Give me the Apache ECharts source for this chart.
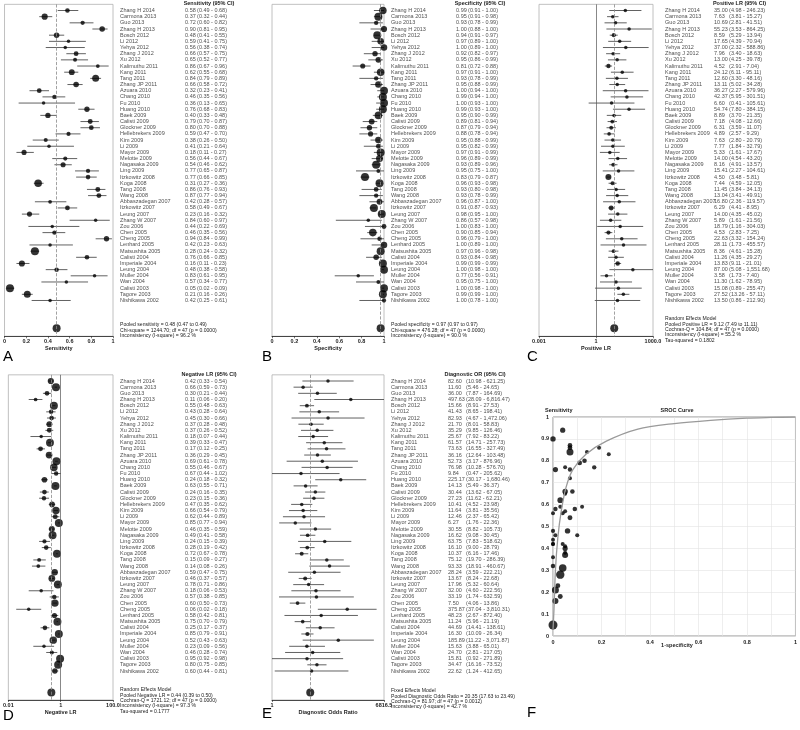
<!DOCTYPE html>
<html>
<head>
<meta charset="utf-8">
<script src="https://cdn.jsdelivr.net/npm/echarts@6/dist/echarts.min.js"></script>
<style>
html,body{margin:0;padding:0;background:#fff}
#main{width:800px;height:730px}
</style>
</head>
<body>
<div id="main"></div>
<script>
// studies, top to bottom
const studies = ['Zhang H 2014','Carmona 2013','Guo 2013','Zhang H 2013','Bosch 2012','Li 2012','Yehya 2012','Zhang J 2012','Xu 2012','Kalimuthu 2011',
  'Kang 2011','Tang 2011','Zhang JP 2011','Azuara 2010','Chang 2010','Fu 2010','Huang 2010','Baek 2009','Calisti 2009','Glockner 2009',
  'Hellebrekers 2009','Kim 2009','Li 2009','Mayor 2009','Melotte 2009','Nagasaka 2009','Ling 2009','Itzkowitz 2008','Koga 2008','Tang 2008',
  'Wang 2008','Abbaszadegan 2007','Itzkowitz 2007','Leung 2007','Zhang W 2007','Zou 2006','Chen 2005','Cheng 2005','Lenhard 2005','Matsushita 2005',
  'Calisti 2004','Imperiale 2004','Leung 2004','Muller 2004','Wan 2004','Calisti 2003','Tagore 2003','Nishikawa 2002'];

const sens   = [0.58,0.37,0.72,0.90,0.48,0.59,0.56,0.66,0.65,0.86,0.62,0.84,0.66,0.32,0.46,0.36,0.76,0.40,0.79,0.80,0.59,0.38,0.41,0.18,0.56,0.54,0.77,0.77,0.31,0.86,0.87,0.42,0.58,0.23,0.84,0.44,0.46,0.94,0.42,0.28,0.76,0.16,0.48,0.83,0.57,0.05,0.21,0.42];
const sensLo = [0.49,0.32,0.60,0.81,0.41,0.41,0.38,0.57,0.52,0.67,0.55,0.79,0.58,0.23,0.35,0.13,0.68,0.33,0.70,0.70,0.47,0.26,0.21,0.11,0.44,0.46,0.65,0.66,0.27,0.76,0.77,0.28,0.49,0.16,0.60,0.22,0.35,0.84,0.23,0.24,0.66,0.11,0.38,0.61,0.34,0.02,0.16,0.25];
const sensHi = [0.68,0.44,0.82,0.95,0.55,0.75,0.74,0.75,0.77,0.96,0.68,0.89,0.72,0.41,0.56,0.65,0.83,0.48,0.87,0.88,0.70,0.50,0.64,0.27,0.67,0.62,0.87,0.85,0.36,0.93,0.94,0.57,0.67,0.32,0.97,0.69,0.56,0.99,0.63,0.32,0.85,0.23,0.58,0.95,0.77,0.09,0.26,0.61];

const spec   = [0.99,0.95,0.93,1.00,0.94,0.97,1.00,0.92,0.95,0.81,0.97,0.93,0.95,1.00,0.99,1.00,0.99,0.95,0.89,0.87,0.88,0.95,0.95,0.97,0.96,0.93,0.95,0.83,0.96,0.93,0.93,0.96,0.91,0.98,0.86,1.00,0.90,0.96,1.00,0.97,0.93,0.99,1.00,0.77,0.95,1.00,0.99,1.00];
const specLo = [0.91,0.91,0.78,0.88,0.91,0.89,0.89,0.82,0.86,0.72,0.91,0.78,0.88,0.94,0.94,0.93,0.93,0.90,0.81,0.79,0.78,0.88,0.82,0.91,0.89,0.89,0.75,0.79,0.93,0.80,0.78,0.87,0.87,0.95,0.57,0.83,0.85,0.79,0.89,0.96,0.84,0.99,0.98,0.56,0.75,0.98,0.99,0.78];
const specHi = [1.00,0.98,0.99,1.00,0.97,1.00,1.00,0.97,0.99,0.88,1.00,0.99,0.99,1.00,1.00,1.00,1.00,0.99,0.94,0.94,0.94,0.99,0.99,0.99,0.99,0.96,1.00,0.87,0.98,0.98,0.99,1.00,0.93,1.00,0.98,1.00,0.94,1.00,1.00,0.98,0.98,0.99,1.00,0.91,1.00,1.00,1.00,1.00];

const plr   = [35.00,7.63,10.69,55.23,8.59,17.65,37.00,7.96,13.00,4.52,24.12,12.60,13.11,36.27,42.37,6.60,54.74,8.89,7.18,6.31,4.89,7.63,7.77,5.33,14.00,8.16,15.41,4.50,7.44,11.45,13.04,16.80,6.29,14.00,5.89,18.79,4.53,22.63,28.11,8.36,11.26,13.83,87.00,3.58,11.30,15.08,27.52,13.50];
const plrLo = [4.98,3.81,2.81,3.53,5.29,4.39,2.32,3.40,4.25,2.91,6.11,3.30,5.02,2.27,5.95,0.41,7.80,3.70,4.08,3.59,2.57,2.80,1.84,1.61,4.54,4.91,2.27,3.48,4.59,3.84,3.41,2.36,4.41,4.35,1.61,1.16,2.83,3.32,1.73,4.61,4.35,9.11,5.08,1.73,1.62,0.89,13.26,0.86];
const plrHi = [246.23,15.27,41.51,864.25,13.94,70.94,588.86,18.63,39.78,7.04,95.11,48.16,34.28,579.96,301.51,105.61,384.15,21.35,12.66,11.07,9.29,20.79,32.79,17.67,43.20,13.57,104.61,5.81,12.05,34.13,49.91,119.57,8.95,45.02,21.56,304.03,7.25,154.24,455.57,15.28,29.27,21.01,1551.68,7.40,78.95,255.47,57.11,212.90];

const nlr   = [0.42,0.66,0.30,0.11,0.55,0.43,0.45,0.37,0.37,0.18,0.39,0.17,0.36,0.69,0.55,0.67,0.24,0.63,0.24,0.23,0.47,0.66,0.62,0.85,0.46,0.49,0.24,0.28,0.72,0.15,0.14,0.59,0.46,0.78,0.18,0.57,0.60,0.06,0.58,0.75,0.25,0.85,0.52,0.23,0.46,0.95,0.80,0.60];
const nlrLo = [0.33,0.59,0.21,0.06,0.48,0.28,0.30,0.28,0.26,0.07,0.33,0.12,0.29,0.61,0.46,0.44,0.18,0.55,0.16,0.15,0.35,0.54,0.44,0.77,0.35,0.41,0.15,0.19,0.67,0.09,0.08,0.47,0.37,0.71,0.06,0.38,0.50,0.02,0.42,0.70,0.17,0.79,0.43,0.09,0.28,0.92,0.75,0.44];
const nlrHi = [0.54,0.73,0.44,0.20,0.63,0.64,0.66,0.48,0.52,0.44,0.47,0.25,0.45,0.78,0.67,1.02,0.32,0.71,0.35,0.36,0.62,0.79,0.89,0.94,0.59,0.58,0.39,0.42,0.78,0.27,0.26,0.75,0.57,0.86,0.53,0.85,0.73,0.18,0.81,0.79,0.37,0.91,0.63,0.56,0.74,0.98,0.85,0.81];

const dor   = [82.60,11.60,36.00,497.63,15.66,41.43,82.93,21.70,35.29,25.67,61.57,73.63,36.16,52.73,76.98,9.84,225.17,14.13,30.44,27.23,10.41,11.64,12.46,6.27,30.55,16.62,63.75,16.10,10.37,75.12,93.33,28.24,13.67,17.96,32.00,33.19,7.50,375.87,48.23,11.24,44.69,16.30,185.89,15.63,24.70,15.81,34.47,22.62];
const dorLo = [10.98,5.46,7.87,28.09,8.91,8.65,4.67,8.01,9.85,7.92,14.71,16.55,12.64,3.17,10.28,0.47,30.17,5.49,13.62,11.62,4.52,3.81,2.37,1.76,8.82,9.08,7.83,9.00,6.16,19.70,18.91,3.59,8.24,5.32,4.60,1.74,4.06,37.04,2.67,5.96,14.41,10.09,11.22,3.88,2.81,0.92,16.16,1.24];
const dorHi = [621.25,24.65,164.69,6816.47,27.53,198.41,1472.06,58.83,126.46,83.22,257.73,327.49,103.48,876.96,576.70,205.62,1680.46,36.37,67.05,62.21,23.98,35.56,65.42,22.36,105.73,30.45,518.62,28.79,17.46,286.39,460.67,222.21,22.68,60.64,222.56,632.59,13.86,3810.31,872.40,21.19,138.61,26.34,3071.87,65.01,217.05,271.89,73.52,412.65];

// pooled estimates [estimate, low, high]
const pooledSens = [0.48, 0.47, 0.49];
const pooledSpec = [0.97, 0.97, 0.97];
const pooledPlr  = [9.12, 7.49, 11.11];
const pooledNlr  = [0.44, 0.39, 0.50];
const pooledDor  = [20.35, 17.63, 23.49];

const statsSens = ['Pooled sensitivity = 0.48 (0.47 to 0.49)','Chi-square = 1244.70; df = 47 (p = 0.0000)','Inconsistency (I-square) = 96.2 %'];
const statsSpec = ['Pooled specificity = 0.97 (0.97 to 0.97)','Chi-square = 476.28; df = 47 (p = 0.0000)','Inconsistency (I-square) = 90.0 %'];
const statsPlr  = ['Random Effects Model','Pooled Positive LR = 9.12 (7.49 to 11.11)','Cochran-Q = 104.84; df = 47 (p = 0.0000)','Inconsistency (I-square) = 55.2 %','Tau-squared = 0.1802'];
const statsNlr  = ['Random Effects Model','Pooled Negative LR = 0.44 (0.39 to 0.50)','Cochran-Q = 1721.12; df = 47 (p = 0.0000)','Inconsistency (I-square) = 97.3 %','Tau-squared = 0.1777'];
const statsDor  = ['Fixed Effects Model','Pooled Diagnostic Odds Ratio = 20.35 (17.63 to 23.49)','Cochran-Q = 81.97; df = 47 (p = 0.0012)','Inconsistency (I-square) = 42.7 %'];

// axis tick labels
const linTicks = [0, 0.2, 0.4, 0.6, 0.8, 1];
const plrTicks = [[0.001,'0.001'],[1,'1'],[1000,'1000.0']];
const nlrTicks = [[0.01,'0.01'],[1,'1'],[100,'100.0']];
const dorTicks = [[1,'1'],[6816.5,'6816.5']];

// SROC curve
const srocFpr = [0, 0.004, 0.01, 0.02, 0.034, 0.054, 0.082, 0.136, 0.22, 0.35, 0.5, 0.65, 0.8, 0.9, 1];
const srocTpr = [0.03, 0.12, 0.30, 0.45, 0.57, 0.68, 0.76, 0.83, 0.89, 0.945, 0.97, 0.985, 0.995, 0.998, 1];

const FONT = '"Liberation Sans", Arial, sans-serif';
const ROW = 6.17;
const fmt = v => v.toLocaleString('en-US', {minimumFractionDigits: 2, maximumFractionDigits: 2});
const clamp = (v, a, b) => Math.max(a, Math.min(b, v));

const panels = [
  {letter:'A', letterX:3, letterY:357, left:1, width:112, firstY:10.5, yMax:53.8, pooledRow:52.5, log:false, min:0, max:1,
   nameX:120, valX:185, ciX:197, header:'Sensitivity (95% CI)', axisName:'Sensitivity',
   v:sens, lo:sensLo, hi:sensHi, pooled:pooledSens, stats:statsSens, statsY:325, statsGap:5.4},
  {letter:'B', letterX:262, letterY:357, left:272, width:112, firstY:10.5, yMax:53.8, pooledRow:52.5, log:false, min:0, max:1,
   nameX:391, valX:456, ciX:468, header:'Specificity (95% CI)', axisName:'Specificity',
   v:spec, lo:specLo, hi:specHi, pooled:pooledSpec, stats:statsSpec, statsY:325, statsGap:5.4},
  {letter:'C', letterX:527, letterY:357, left:539, width:114, firstY:10.5, yMax:53.8, pooledRow:52.5, log:true, min:0.001, max:1000, ticks:plrTicks, nullLine:1,
   nameX:665, valX:714, ciX:729, header:'Positive LR (95% CI)', axisName:'Positive LR',
   v:plr, lo:plrLo, hi:plrHi, pooled:pooledPlr, stats:statsPlr, statsY:319, statsGap:5.3},
  {letter:'D', letterX:3, letterY:716, left:1, width:112, firstY:381, yMax:52.7, pooledRow:51.5, log:true, min:0.01, max:100, ticks:nlrTicks, nullLine:1,
   nameX:120, valX:185, ciX:197, header:'Negative LR (95% CI)', axisName:'Negative LR',
   v:nlr, lo:nlrLo, hi:nlrHi, pooled:pooledNlr, stats:statsNlr, statsY:690, statsGap:5.3},
  {letter:'E', letterX:262, letterY:714, left:272, width:112, firstY:381, yMax:52.7, pooledRow:51.5, log:true, min:1, max:6816.5, ticks:dorTicks,
   nameX:391, valX:448, ciX:466, header:'Diagnostic OR (95% CI)', axisName:'Diagnostic Odds Ratio',
   v:dor, lo:dorLo, hi:dorHi, pooled:pooledDor, stats:statsDor, statsY:691, statsGap:5.3}
];

const grid = [], xAxis = [], yAxis = [], series = [], graphic = [];

panels.forEach((p, i) => {
  const top = p.firstY - ROW;
  grid.push({left:p.left, top:top, width:p.width, height:p.yMax * ROW, show:true,
    borderColor:'#b0b0b0', borderWidth:0.8, backgroundColor:'transparent'});
  const tickVals = p.log ? p.ticks.map(t => t[0]) : linTicks;
  xAxis.push({
    gridIndex:i, type:p.log ? 'log' : 'value', logBase:10, min:p.min, max:p.max,
    interval:p.log ? undefined : 0.2,
    axisLine:{show:true, onZero:false, lineStyle:{color:'#222', width:0.8}},
    axisTick:{show:true, length:2, lineStyle:{color:'#222', width:0.6}, customValues:p.log ? tickVals : undefined},
    axisLabel:{fontSize:5.5, fontWeight:'bold', fontFamily:FONT, color:'#222', margin:2,
      customValues:p.log ? tickVals : undefined,
      formatter:v => {
        if (!p.log) return v === 0 ? '0' : v === 1 ? '1' : String(+v.toFixed(1));
        let best = p.ticks[0];
        p.ticks.forEach(t => { if (Math.abs(Math.log(t[0] / v)) < Math.abs(Math.log(best[0] / v))) best = t; });
        return best[1];
      }},
    splitLine:{show:false},
    name:p.axisName, nameLocation:'middle', nameGap:9,
    nameTextStyle:{fontSize:5.5, fontWeight:'bold', fontFamily:FONT, color:'#222'}
  });
  yAxis.push({gridIndex:i, type:'value', inverse:true, min:0, max:p.yMax, show:false});

  const logw = k => p.log ? Math.log10(p.hi[k] / p.lo[k]) : (p.hi[k] - p.lo[k]);
  const size = k => p.log ? clamp(0.9 / logw(k) + 2, 3.5, 8) : clamp(0.5 / logw(k) + 2, 3.5, 8);

  const refLines = [{xAxis:p.pooled[0], lineStyle:{color:'#8a8a8a', type:'dashed', width:0.8}}];
  if (p.nullLine) refLines.push({xAxis:p.nullLine, lineStyle:{color:'#555', type:'solid', width:0.7}});

  // confidence intervals
  series.push({
    type:'custom', xAxisIndex:i, yAxisIndex:i, clip:true, silent:true,
    data:studies.map((s, k) => [Math.max(p.lo[k], p.min), Math.min(p.hi[k], p.max), k + 1]),
    encode:{x:[0, 1], y:2},
    renderItem:(params, api) => {
      const a = api.coord([api.value(0), api.value(2)]);
      const b = api.coord([api.value(1), api.value(2)]);
      return {type:'line', shape:{x1:a[0], y1:a[1], x2:b[0], y2:b[1]}, style:{stroke:'#3a3a3a', lineWidth:0.8}};
    }
  });
  // point estimates
  series.push({
    type:'scatter', xAxisIndex:i, yAxisIndex:i, silent:true,
    data:studies.map((s, k) => ({value:[p.v[k], k + 1], symbolSize:size(k)})),
    itemStyle:{color:'#000'},
    markLine:{silent:true, symbol:'none', label:{show:false}, data:refLines}
  });
  // pooled estimate
  series.push({
    type:'scatter', xAxisIndex:i, yAxisIndex:i, silent:true, symbol:'circle', symbolSize:8,
    data:[[p.pooled[0], p.pooledRow]], itemStyle:{color:'#000'}
  });
  // study names and values
  series.push({
    type:'scatter', xAxisIndex:i, yAxisIndex:i, silent:true, clip:false, symbolSize:0.1,
    itemStyle:{color:'rgba(0,0,0,0)'},
    data:studies.map((s, k) => ({value:[p.max, k + 1], name:s, str:fmt(p.v[k]), ci:'(' + fmt(p.lo[k]) + ' - ' + fmt(p.hi[k]) + ')'})),
    label:{show:true, position:'right', distance:p.nameX - (p.left + p.width),
      formatter:prm => '{n|' + prm.data.name + '}{v|' + prm.data.str + '}{c|' + prm.data.ci + '}',
      rich:{
        n:{width:p.valX - p.nameX, fontSize:5.5, fontFamily:FONT, color:'#222'},
        v:{width:p.ciX - p.valX, fontSize:5.5, fontFamily:FONT, color:'#222'},
        c:{fontSize:5.5, fontFamily:FONT, color:'#222'}
      }}
  });

  graphic.push({type:'text', silent:true, x:(p.valX + p.ciX + 36) / 2, y:p.firstY - 7,
    style:{text:p.header, font:'bold 5.5px ' + FONT, fill:'#222', align:'center', textAlign:'center', verticalAlign:'middle', textVerticalAlign:'middle'}});
  p.stats.forEach((line, j) => {
    graphic.push({type:'text', silent:true, x:p.nameX, y:p.statsY + j * p.statsGap,
      style:{text:line, font:'5.1px ' + FONT, fill:'#222', verticalAlign:'middle', textVerticalAlign:'middle'}});
  });
  graphic.push({type:'text', silent:true, x:p.letterX, y:p.letterY,
    style:{text:p.letter, font:'15px ' + FONT, fill:'#000', verticalAlign:'middle', textVerticalAlign:'middle'}});
});

// SROC panel
const si = panels.length;
grid.push({left:553, top:417, width:245, height:219, show:true, borderColor:'#777', borderWidth:0.8, backgroundColor:'transparent'});
xAxis.push({gridIndex:si, type:'value', min:0, max:1, interval:0.1,
  axisLine:{show:false}, axisTick:{show:false},
  axisLabel:{fontSize:5.5, fontWeight:'bold', fontFamily:FONT, color:'#222', margin:3,
    formatter:v => Math.round(v * 10) % 2 ? '' : (v === 0 ? '0' : v === 1 ? '1' : v.toFixed(1))},
  splitLine:{show:true, lineStyle:{color:'#e2e2e2', width:0.6}}});
yAxis.push({gridIndex:si, type:'value', min:0, max:1, interval:0.1,
  axisLine:{show:false}, axisTick:{show:false},
  axisLabel:{fontSize:5.5, fontWeight:'bold', fontFamily:FONT, color:'#222', margin:4,
    formatter:v => v === 0 ? '0' : v === 1 ? '1' : v.toFixed(1)},
  splitLine:{show:true, lineStyle:{color:'#e2e2e2', width:0.6}}});
series.push({type:'line', xAxisIndex:si, yAxisIndex:si, silent:true, smooth:0.3, showSymbol:false,
  lineStyle:{color:'#9a9a9a', width:1.3},
  data:srocFpr.map((f, k) => [f, srocTpr[k]])});
series.push({type:'scatter', xAxisIndex:si, yAxisIndex:si, silent:true, itemStyle:{color:'#000'},
  data:studies.map((s, k) => ({value:[+(1 - spec[k]).toFixed(2), sens[k]],
    symbolSize:clamp(0.55 / (sensHi[k] - sensLo[k]) + 1.5, 4, 9)}))});
graphic.push({type:'text', silent:true, x:545, y:410,
  style:{text:'Sensitivity', font:'bold 5.5px ' + FONT, fill:'#222', verticalAlign:'middle', textVerticalAlign:'middle'}});
graphic.push({type:'text', silent:true, x:677, y:410,
  style:{text:'SROC Curve', font:'bold 5.5px ' + FONT, fill:'#222', align:'center', textAlign:'center', verticalAlign:'middle', textVerticalAlign:'middle'}});
graphic.push({type:'text', silent:true, x:677, y:645,
  style:{text:'1-specificity', font:'bold 5.5px ' + FONT, fill:'#222', align:'center', textAlign:'center', verticalAlign:'middle', textVerticalAlign:'middle'}});
graphic.push({type:'text', silent:true, x:527, y:713,
  style:{text:'F', font:'15px ' + FONT, fill:'#000', verticalAlign:'middle', textVerticalAlign:'middle'}});

const chart = echarts.init(document.getElementById('main'));
chart.setOption({
  animation:false,
  backgroundColor:'#fff',
  textStyle:{fontFamily:FONT},
  grid:grid, xAxis:xAxis, yAxis:yAxis, series:series, graphic:graphic
});
</script>
</body>
</html>
